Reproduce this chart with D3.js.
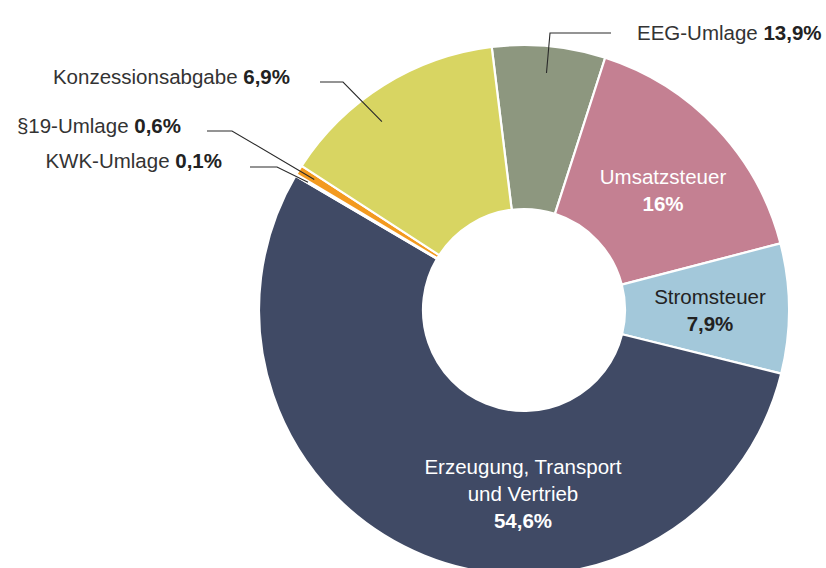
<!DOCTYPE html>
<html>
<head>
<meta charset="utf-8">
<script src="https://cdn.jsdelivr.net/npm/d3@7"></script>
<style>
  body { margin: 0; background: #fff; }
  svg { display: block; font-family: "Liberation Sans", Arial, sans-serif; }
</style>
</head>
<body>
<div class="pie-container"></div>
<script>
// Data (clockwise, starting with the slice right of 12 o'clock)
const categories = ['EEG-Umlage', 'Umsatzsteuer', 'Stromsteuer', 'Erzeugung, Transport und Vertrieb', 'KWK-Umlage', '§19-Umlage', 'Konzessionsabgabe'];
const shares = [6.9, 16, 7.9, 54.6, 0.1, 0.6, 13.9];        // slice size as drawn
const shownPct = ['13,9%', '16%', '7,9%', '54,6%', '0,1%', '0,6%', '6,9%']; // printed label
const colors = ['#8d977f', '#c48092', '#a3c8da', '#404a65', '#9dbfb1', '#f39a1f', '#d8d562'];

const width = 826;
const height = 568;
const cx = 524, cy = 310;
const outerR = 265, innerR = 101;
const fontSize = '20.5px';

const svg = d3.select('.pie-container')
    .append('svg')
    .attr('width', width)
    .attr('height', height);

const g = svg.append('g')
    .attr('transform', `translate(${cx}, ${cy})`);

const startA = -7 * Math.PI / 180;

const pie = d3.pie()
    .sort(null)
    .value(d => d.share)
    .startAngle(startA)
    .endAngle(startA + 2 * Math.PI);

const data = categories.map((c, i) => ({name: c, share: shares[i], pct: shownPct[i], color: colors[i]}));
const arcs = pie(data);

const arc = d3.arc().innerRadius(innerR).outerRadius(outerR);

g.selectAll('.slice')
    .data(arcs)
    .enter()
    .append('path')
    .attr('class', 'slice')
    .attr('d', arc)
    .style('fill', d => d.data.color)
    .style('stroke', '#fff')
    .style('stroke-width', 2.2)
    .style('stroke-linejoin', 'round');

// polar helper
const polar = (a, r) => [r * Math.sin(a), -r * Math.cos(a)];
const midA = d => (d.startAngle + d.endAngle) / 2;

// Inside labels
const inside = [
    {i: 1, x: 663, y: 184, lines: ['Umsatzsteuer'], fill: '#fff'},
    {i: 2, x: 710, y: 304, lines: ['Stromsteuer'], fill: '#222'},
    {i: 3, x: 523, y: 474, lines: ['Erzeugung, Transport', 'und Vertrieb'], fill: '#fff'}
];

inside.forEach(l => {
    const t = svg.append('text')
        .attr('x', l.x)
        .attr('y', l.y)
        .attr('text-anchor', 'middle')
        .style('font-size', fontSize)
        .style('fill', l.fill);
    l.lines.forEach((s, k) => {
        t.append('tspan').attr('x', l.x).attr('dy', k === 0 ? 0 : 27).text(s);
    });
    t.append('tspan')
        .attr('x', l.x)
        .attr('dy', 27)
        .style('font-weight', 'bold')
        .text(arcs[l.i].data.pct);
});

// Outside labels with leader lines
const outside = [
    {i: 0, x: 637, y: 40, anchor: 'start', lineY: 33, x1: 611, x2: 550, r: 238, da: 0},
    {i: 6, x: 290, y: 84, anchor: 'end', lineY: 82, x1: 320, x2: 343, r: 236, da: -5},
    {i: 5, x: 181, y: 133, anchor: 'end', lineY: 131, x1: 207, x2: 232, r: 247, da: 0},
    {i: 4, x: 222, y: 168, anchor: 'end', lineY: 167, x1: 250, x2: 277, r: 251, da: 0}
];

outside.forEach(l => {
    const d = arcs[l.i];
    const t = svg.append('text')
        .attr('x', l.x)
        .attr('y', l.y)
        .attr('text-anchor', l.anchor)
        .style('font-size', fontSize)
        .style('fill', '#333');
    t.append('tspan').text(d.data.name + ' ');
    t.append('tspan').style('font-weight', 'bold').style('fill', '#222').text(d.data.pct);

    const p = polar(midA(d) + l.da * Math.PI / 180, l.r);
    svg.append('polyline')
        .attr('points', [[l.x1, l.lineY], [l.x2, l.lineY], [cx + p[0], cy + p[1]]].map(q => q.join(',')).join(' '))
        .style('fill', 'none')
        .style('stroke', '#2a2a2a')
        .style('stroke-width', 1.1);
});
</script>
</body>
</html>
